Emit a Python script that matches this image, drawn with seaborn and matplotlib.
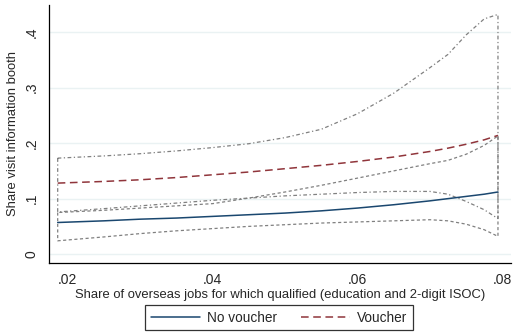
import matplotlib
matplotlib.use("Agg")
from matplotlib import pyplot as plt
import seaborn as sns
import pandas as pd

# share of overseas jobs (x) and fitted shares / confidence bounds
x = [0.0186, 0.025, 0.03, 0.035, 0.04, 0.045, 0.05, 0.055, 0.06, 0.065, 0.07, 0.0725, 0.075, 0.0775, 0.0794]
no_voucher = [0.057, 0.060, 0.063, 0.065, 0.068, 0.071, 0.074, 0.078, 0.083, 0.089, 0.096, 0.100, 0.104, 0.108, 0.112]
nv_low = [0.024, 0.031, 0.037, 0.042, 0.046, 0.050, 0.053, 0.056, 0.058, 0.060, 0.062, 0.060, 0.054, 0.044, 0.032]
nv_high = [0.075, 0.079, 0.083, 0.087, 0.091, 0.101, 0.112, 0.124, 0.137, 0.150, 0.163, 0.169, 0.180, 0.196, 0.213]
voucher = [0.128, 0.131, 0.134, 0.138, 0.143, 0.148, 0.154, 0.160, 0.167, 0.175, 0.185, 0.191, 0.198, 0.206, 0.214]
v_low = [0.076, 0.082, 0.087, 0.092, 0.097, 0.101, 0.105, 0.108, 0.111, 0.113, 0.113, 0.108, 0.095, 0.080, 0.064]
v_high = [0.173, 0.177, 0.181, 0.186, 0.192, 0.199, 0.210, 0.225, 0.253, 0.290, 0.336, 0.360, 0.395, 0.424, 0.432]

xticks = [0.02, 0.04, 0.06, 0.08]
xticklabels = [".02", ".04", ".06", ".08"]
yticks = [0, 0.1, 0.2, 0.3, 0.4]
yticklabels = ["0", ".1", ".2", ".3", ".4"]

sns.set_style("white")
plt.rcParams["font.family"] = ["Liberation Sans", "DejaVu Sans"]

fig = plt.figure(figsize=(5.14, 3.35), dpi=100)
ax = fig.add_axes([49/514, 72/335, 462/514, 258/335])

ax.set_xlim(0.0174, 0.0812)
ax.set_ylim(-0.016, 0.449)
for t in yticks:
    ax.axhline(t, color="#eaf2f3", lw=1.0, zorder=0)

grey = "#808080"
# CI outlines (closed areas, no fill)
ax.fill_between(x, nv_low, nv_high, facecolor="none", edgecolor=grey,
                linewidth=0.9, linestyle=(0, (2.5, 2)), zorder=2)
ax.fill_between(x, v_low, v_high, facecolor="none", edgecolor=grey,
                linewidth=0.9, linestyle=(0, (3, 2, 1, 2)), zorder=2)

df = pd.DataFrame({
    "x": x * 2,
    "y": no_voucher + voucher,
    "group": ["No voucher"] * len(x) + ["Voucher"] * len(x),
})
sns.lineplot(data=df, x="x", y="y", hue="group", style="group",
             palette={"No voucher": "#1a476f", "Voucher": "#90353b"},
             dashes={"No voucher": "", "Voucher": (5, 3)},
             linewidth=1.1, ax=ax, legend=False, zorder=3)

ax.set_xticks(xticks)
ax.set_xticklabels(xticklabels, fontsize=10)
ax.set_yticks(yticks)
ax.set_yticklabels(yticklabels, fontsize=10, rotation=90, va="center")
ax.tick_params(axis="both", direction="out", length=4, width=0.8, color="black")
for s in ["top", "right"]:
    ax.spines[s].set_visible(False)
for s in ["left", "bottom"]:
    ax.spines[s].set_color("black")
    ax.spines[s].set_linewidth(0.9)

ax.set_xlabel("Share of overseas jobs for which qualified (education and 2-digit ISOC)", fontsize=9.4, labelpad=1)
ax.set_ylabel("Share visit information booth", fontsize=9.4, labelpad=4)

from matplotlib.lines import Line2D
handles = [Line2D([], [], color="#1a476f", lw=1.1),
           Line2D([], [], color="#90353b", lw=1.1, linestyle=(0, (5, 3)))]
leg = fig.legend(handles, ["No voucher", "Voucher"], loc="center", ncol=2,
                 bbox_to_anchor=(279/514, 0.051), fontsize=9.8, frameon=True,
                 fancybox=False, edgecolor="black", handlelength=3.6,
                 handletextpad=0.5, columnspacing=1.8, borderpad=0.4,
                 borderaxespad=0)
leg.get_frame().set_linewidth(0.9)

fig.savefig("out.png", dpi=100)
